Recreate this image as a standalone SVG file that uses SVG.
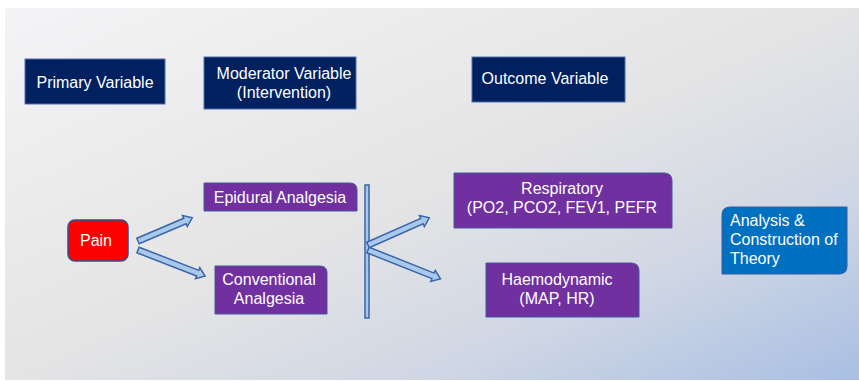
<svg xmlns="http://www.w3.org/2000/svg" width="859" height="381" viewBox="0 0 859 381">
<defs>
<linearGradient id="bg" x1="0" y1="0" x2="1" y2="1">
<stop offset="0" stop-color="#f4f4f6"/>
<stop offset="0.5" stop-color="#e4e4e5"/>
<stop offset="0.75" stop-color="#cfd6e4"/>
<stop offset="1" stop-color="#a8bfe3"/>
</linearGradient>
<style>
.t{font-family:"Liberation Sans",Arial,sans-serif;font-size:16px;fill:#ffffff}
.c{text-anchor:middle}
.navy{fill:#002060;stroke:#4f6fae;stroke-width:1}
.purple{fill:#7030a0;stroke:#3f5a9a;stroke-width:1}
.arr{fill:#a9c8ec;stroke:#3a66a8;stroke-width:1.5;stroke-linejoin:miter}
</style>
</defs>
<rect x="0" y="0" width="859" height="381" fill="#ffffff"/>
<rect x="5" y="8" width="854" height="372" fill="url(#bg)"/>

<g id="primary">
<rect class="navy" x="25" y="59" width="140" height="45"/>
<text class="t c" x="95" y="88">Primary Variable</text>
</g>
<g id="moderator">
<rect class="navy" x="204" y="57" width="152" height="52"/>
<text class="t c" x="284" y="79">Moderator Variable</text>
<text class="t c" x="284" y="98">(Intervention)</text>
</g>
<g id="outcome">
<rect class="navy" x="472" y="57" width="153" height="45"/>
<text class="t c" x="545" y="84">Outcome Variable</text>
</g>

<g id="pain">
<rect x="68" y="220" width="60" height="41" rx="7" fill="#ff0000" stroke="#2f4f8f" stroke-width="1.5"/>
<text class="t c" x="96" y="246">Pain</text>
</g>
<g id="epidural">
<path class="purple" d="M204,183 H350 Q357,183 357,190 V211 H204 Z"/>
<text class="t c" x="280" y="203">Epidural Analgesia</text>
</g>
<g id="conventional">
<path class="purple" d="M215,266 H320 Q327,266 327,273 V314 H215 Z"/>
<text class="t c" x="269" y="285">Conventional</text>
<text class="t c" x="269" y="304">Analgesia</text>
</g>
<g id="respiratory">
<path class="purple" d="M454,173 H664 Q672,173 672,181 V228 H454 Z"/>
<text class="t c" x="562" y="194">Respiratory</text>
<text class="t c" x="562" y="213">(PO2, PCO2, FEV1, PEFR</text>
</g>
<g id="haemodynamic">
<path class="purple" d="M486,263 H631 Q639,263 639,271 V317 H486 Z"/>
<text class="t c" x="557" y="285">Haemodynamic</text>
<text class="t c" x="557" y="304">(MAP, HR)</text>
</g>
<g id="analysis">
<path d="M730,207 H847 V266 Q847,274 839,274 H722 V215 Q722,207 730,207 Z" fill="#0070c0" stroke="#3f5a9a" stroke-width="1"/>
<text class="t" x="730" y="226">Analysis &amp;</text>
<text class="t" x="730" y="245">Construction of</text>
<text class="t" x="730" y="264">Theory</text>
</g>

<g id="connectors">
<rect class="arr" x="365" y="185" width="4" height="133"/>
<path class="arr" transform="translate(138,241) rotate(-23.1)" d="M0,-3 H51 V-6 L59,0 L51,6 V3 H0 Z"/>
<path class="arr" transform="translate(138,250) rotate(21.2)" d="M0,-3 H64 V-6 L72,0 L64,6 V3 H0 Z"/>
<path class="arr" transform="translate(368,245) rotate(-23.9)" d="M0,-3 H59 V-6 L67,0 L59,6 V3 H0 Z"/>
<path class="arr" transform="translate(368,250) rotate(21.7)" d="M0,-3 H70 V-6 L78,0 L70,6 V3 H0 Z"/>
</g>
</svg>
